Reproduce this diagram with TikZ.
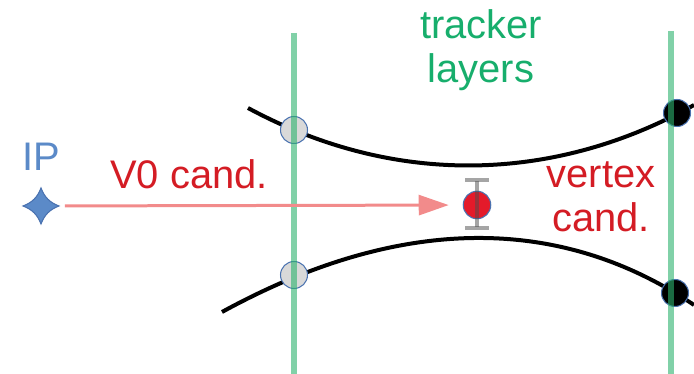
\documentclass[tikz,border=0pt]{standalone}
\usepackage{fontspec}
\setmainfont{Liberation Sans}
\usetikzlibrary{arrows.meta, positioning}
\definecolor{verdecapa}{HTML}{2DB36E}
\definecolor{verdetexto}{HTML}{17AE6C}
\definecolor{rojovertice}{HTML}{E41A2A}
\definecolor{rojotexto}{HTML}{D41C24}
\definecolor{rojoflecha}{HTML}{F28B8B}
\definecolor{azulip}{HTML}{5B8AC8}
\definecolor{azulborde}{HTML}{4A72B0}
\definecolor{grisimpacto}{HTML}{D9D9D9}
\colorlet{colCapa}{verdecapa}
\colorlet{colTraza}{black}
\colorlet{colVertice}{rojovertice}
\colorlet{colFlecha}{rojoflecha}
\tikzset{
  lineaCapa/.style={draw=colCapa, line width=0.12cm, opacity=0.6},
  traza/.style={draw=colTraza, line width=0.08cm},
  impactoBase/.style={circle, draw=azulborde, line width=0.6pt,
    minimum size=0.54cm, inner sep=0pt},
  impactoGris/.style={impactoBase, fill=grisimpacto},
  impactoNegro/.style={impactoBase, fill=black},
  puntoVertice/.style={impactoBase, fill=colVertice, minimum size=0.55cm},
  barraError/.style={{Bar[width=0.48cm]}-{Bar[width=0.48cm]}, black!70,
    line width=0.08cm, opacity=0.5},
  flechaV0/.style={-{Triangle[length=0.6cm, width=0.4cm]}, colFlecha,
    line width=0.06cm},
  estrellaIP/.style={fill=azulip, draw=azulborde, line width=0.6pt,
    line join=miter},
  etiqueta/.style={font=\fontsize{22.7}{25}\selectfont, inner sep=0pt,
    align=center},
  etiquetaCapa/.style={etiqueta, text=verdetexto},
  etiquetaRoja/.style={etiqueta, text=rojotexto},
}
\begin{document}
\begin{tikzpicture}[x=0.02cm, y=-0.02cm]
    \useasboundingbox (0,0) rectangle (694,374);
    % trazas
    \coordinate (trazaSupIni) at (248,108);
    \coordinate (trazaSupFin) at (694,105);
    \coordinate (trazaInfIni) at (222,312);
    \coordinate (trazaInfFin) at (694,305);
    \draw[traza] (trazaSupIni) .. controls (400,190) and (560,180) .. (trazaSupFin);
    \draw[traza] (trazaInfIni) .. controls (400,214.5) and (560,214.5) .. (trazaInfFin);
    % impactos
    \node[impactoGris] (impSupIzq) at (294,130) {};
    \node[impactoGris] (impInfIzq) at (294,275) {};
    \node[impactoNegro] (impSupDer) at (677,113) {};
    \node[impactoNegro] (impInfDer) at (675,293) {};
    % capas del detector
    \coordinate (capaIzqArr) at (294,33);
    \coordinate (capaIzqAba) at (294,374);
    \coordinate (capaDerArr) at (671,31);
    \coordinate (capaDerAba) at (671,374);
    \draw[lineaCapa] (capaIzqArr) -- (capaIzqAba);
    \draw[lineaCapa] (capaDerArr) -- (capaDerAba);
    \node[etiquetaCapa] (txtCapa) at (481,50) {tracker\\layers};
    % IP y candidato V0
    \coordinate (ip) at (41,206);
    \filldraw[estrellaIP] (ip) ++(0,-18) to[bend right=24] ++(18,18)
      to[bend right=24] ++(-18,18) to[bend right=24] ++(-18,-18)
      to[bend right=24] cycle;
    \node[etiqueta, text=azulip, above=0.7cm of ip] (txtIP) {IP};
    \node[puntoVertice] (vertice) at (477,205) {};
    \coordinate (barraArr) at (477,178);
    \coordinate (barraAba) at (477,230);
    \draw[barraError] (barraArr) -- (barraAba);
    \draw[flechaV0, shorten <=0.48cm, shorten >=0.28cm] (ip) -- (vertice);
    \node[etiquetaRoja, anchor=base west] (txtV0) at (110,189) {V0 cand.};
    \node[etiquetaRoja] (txtVertice) at (601,197) {vertex\\cand.};
  \end{tikzpicture}
\end{document}
